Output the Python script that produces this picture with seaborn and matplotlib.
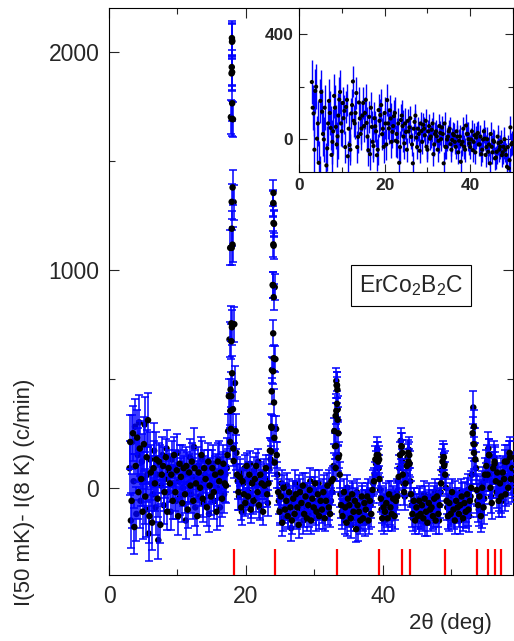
#!/usr/bin/env python3
"""Difference pattern I(50 mK) - I(8 K) for ErCo2B2C, with inset."""

import matplotlib

matplotlib.use("Agg")
import matplotlib.pyplot as plt
import numpy as np
import pandas as pd
import seaborn as sns
from matplotlib.ticker import MultipleLocator

# main scan, first set: 2theta grid 3.0 ... 59.0, step 0.2 deg
two_theta = np.round(np.arange(3.0, 59.01, 0.2), 1)
counts = [
    90, -150, 210, 30, 280, -120, 150, 300, -60, 120,
    40, 290, -100, 60, -210, 130, 20, -30, 170, -90,
    60, -240, 110, 10, 150, -80, 40, 180, -20, 70,
    -110, 130, 20, 90, -60, 160, 30, -40, 110, 0,
    60, -150, 80, 20, 140, -30, 50, 187, -90, 40,
    100, -40, 30, 130, -70, 60, 10, 90, -120, 50,
    20, 110, -60, 70, 0, 130, -90, 40, 80, -30,
    60, 90, 260, 680, 1700, 2050, 1310, 480, 160, 30,
    -40, 70, -110, 20, 90, -60, 40, -20, 110, -80,
    30, 80, -50, 10, 120, -90, 50, -30, 70, -10,
    40, -70, 90, 130, 540, 1300, 920, 270, 60, -60,
    -100, 20, -140, -40, -90, 10, -120, -60, -185, -30,
    -80, 20, -130, -50, 0, -110, -60, -150, 10, -90,
    -40, -120, 30, -70, -100, -10, -140, -60, 20, -90,
    -50, -130, 0, -80, -40, -110, 20, -60, -20, 100,
    190, 490, 360, 150, -30, -110, -60, -150, -80, 0,
    -120, -60, -170, -40, -100, -140, -20, -185, -90, -130,
    -50, -110, -160, -70, -20, -130, -80, -30, 20, 60,
    110, 175, 90, -10, -100, -60, -150, -40, -120, -80,
    -110, -30, -140, -70, -90, -20, 30, 90, 215, 120,
    20, -40, 60, 140, 174, 30, -80, -140, -60, -120,
    -90, -150, -50, -130, -100, -30, -160, -80, -110, -40,
    -140, -70, -120, -20, -100, -60, -150, -20, 80, 155,
    110, 0, -90, -140, -40, -110, -70, -130, -30, -100,
    -60, -150, -20, -90, -120, -50, -80, -10, -130, -40,
    60, 368, 200, 90, -60, -100, -20, -110, 20, -50,
    40, 120, 180, 60, -40, 30, 140, 90, -20, 40,
    -30, 60, -60, 20, 100, -10, 50, 140, 80, 10,
    30,
]

# main scan, second set: 3.1 ... 58.9, step 0.2 deg
two_theta_b = np.round(np.arange(3.1, 58.91, 0.2), 1)
counts_b = [
    210, -60, 250, -180, 100, 230, -20, 180, 40, -110,
    200, -40, 140, 310, -130, 70, -160, 90, 20, 130,
    -50, 120, -170, 60, 100, -20, 140, -110, 90, 20,
    60, -60, 150, -20, 80, -130, 110, 50, -70, 90,
    -30, 100, -100, 70, 10, 120, -60, 90, 20, -130,
    70, 0, 150, -50, 90, 40, -90, 120, 10, -40,
    90, -20, 60, -110, 120, 30, 70, -50, 110, 20,
    10, 150, 420, 1100, 1900, 1690, 750, 260, 60, -20,
    50, -90, 30, -30, -70, 100, -40, 60, -100, 20,
    -60, 40, 100, -20, -80, 60, 20, -110, 10, 90,
    -30, 20, 170, 280, 930, 1210, 590, 150, -20, -110,
    -40, -160, 0, -100, -60, -130, -20, -90, -150, -50,
    -120, -30, -90, -170, -20, -70, 10, -120, -40, -140,
    -80, -10, -150, -50, -90, 20, -110, -30, -130, -60,
    -100, -20, -140, -60, 10, -90, -120, 30, 40, 260,
    330, 470, 250, 60, -80, -130, -20, -90, -160, -50,
    -80, -140, -30, -110, -60, -190, -80, -110, -150, -40,
    -140, -70, -100, -40, -150, -60, -120, -10, 30, 130,
    150, 120, 40, -50, -140, -90, -110, -70, -140, -30,
    -90, -120, -50, -130, -60, -40, 50, 150, 190, 60,
    -20, 20, 100, 160, 110, -30, -120, -60, -150, -90,
    -130, -60, -120, -80, -140, -50, -110, -160, -70, -100,
    -90, -130, -50, -150, -40, -120, -80, 20, 120, 140,
    60, -60, -130, -70, -120, -20, -100, -150, -60, -90,
    -120, -80, -40, -140, -70, -110, -30, -100, -60, 0,
    250, 280, 130, -10, -80, -40, -130, 0, -90, 60,
    100, 60, 150, 0, -70, 90, 110, 30, 70, -60,
    20, -40, 70, 40, -30, 120, 0, 160, 40, 90,
]

# extra points sitting on the Bragg peaks
peak_theta = [
    17.95, 17.97, 17.93, 17.98, 17.99, 17.93, 18.05, 17.92, 17.93, 17.92,
    18.04, 17.88, 17.95, 17.87, 17.98, 17.75, 17.72, 17.80, 17.70, 18.10,
    18.15, 18.20, 17.85,
    24.02, 24.00, 24.03, 24.00, 24.04, 23.98, 24.05, 23.98, 24.05, 23.97,
    23.76, 24.10, 23.75, 24.15, 23.70, 24.20,
    33.25, 33.35, 33.30, 33.20, 33.40, 33.15, 33.50, 33.10,
    39.35, 39.45, 42.75, 42.85, 43.85, 43.75, 48.85, 48.95,
    53.25, 53.30, 55.50, 56.30, 57.80, 58.60,
]
peak_counts = [
    2062, 2045, 1929, 1906, 1763, 1692, 1377, 1311, 1188, 1100,
    1115, 754, 736, 672, 525, 450, 353, 270, 210, 360,
    180, 123, 420,
    1352, 1306, 1214, 1116, 1110, 928, 874, 708, 594, 534,
    442, 391, 275, 229, 166, 116,
    470, 450, 385, 353, 312, 192, 137, 91,
    150, 130, 190, 160, 150, 120, 140, 100,
    200, 160, 150, 120, 120, 140,
]

# error bar half-widths by 2theta region
err_edges = [3.0, 7.0, 17.0, 19.0, 52.0, 59.5]
err_values = [125, 85, 80, 60, 75]

# calculated reflection positions (red ticks)
bragg_positions = [18.2, 24.2, 33.3, 39.4, 42.8, 43.9, 49.0, 53.7, 55.4, 56.3, 57.2]

# inset scan, first set: 3.0 ... 49.8, step 0.4 deg
inset_theta = np.round(np.arange(3.0, 49.81, 0.4), 1)
inset_counts = [
    218, 98, 184, 2, -90, 146, 105, -1, -140, -35,
    146, 43, -10, 165, 47, 11, 151, 60, 138, 108,
    123, -65, -22, 98, 220, 60, 176, 9, 79, 41,
    138, 100, 62, -42, -57, 47, -26, 49, -61, 111,
    92, 19, -29, 60, 149, 41, 79, 28, 88, -6,
    -10, -90, 73, 50, -16, 28, 70, 45, 9, -92,
    66, 6, 40, -44, 31, 55, 15, -29, 30, 2,
    36, -57, 20, 11, -6, 24, 45, -92, -29, -1,
    30, -19, -3, 15, -29, 10, -6, -86, -10, -29,
    52, 20, -16, -1, -42, 15, 6, 24, -20, -57,
    -1, 2, -30, -48, -92, -29, -5, -73, -48, -15,
    -29, -61, -29, -40, -105, -111, 45, -14,
]

# inset scan, second set: 3.2 ... 49.6, step 0.4 deg
inset_theta_b = np.round(np.arange(3.2, 49.61, 0.4), 1)
inset_counts_b = [
    120, -40, 200, 60, -150, 180, 20, 120, -100, 60,
    100, -60, 30, 120, -20, 90, 180, 30, 80, -30,
    150, 40, -40, 130, 70, 100, -30, 140, 20, 90,
    50, 150, 10, 85, 120, -10, 80, 30, -40, 70,
    130, 40, 100, -20, 60, 110, -10, 50, 100, 20,
    60, -30, 90, 10, 60, -40, 30, 80, -20, 40,
    90, -30, 20, 60, -10, 40, 70, -40, 50, 10,
    60, -20, 30, -40, 50, 0, 20, 60, -30, 10,
    40, -40, 20, -10, 30, -50, 10, -20, 40, -40,
    20, 0, -30, 30, -10, -50, 20, -20, 10, -40,
    30, -60, 0, -20, 20, -50, -10, -70, 10, -40,
    -10, -50, 0, -60, -30, -80, -20,
]
inset_err_edges = [3.0, 10.0, 25.0, 50.5]
inset_err_values = [85, 60, 45]


def region_err(theta, edges, values):
    idx = np.searchsorted(edges, theta, side="right") - 1
    return np.asarray(values, dtype=float)[idx]


def main() -> None:
    set_a = pd.DataFrame({"theta": two_theta, "counts": np.asarray(counts, float)})
    set_b = pd.DataFrame(
        {
            "theta": np.concatenate([two_theta_b, peak_theta]),
            "counts": np.concatenate([counts_b, peak_counts]).astype(float),
        }
    )
    main_df = pd.concat([set_a, set_b], ignore_index=True)
    main_df["err"] = region_err(main_df["theta"].to_numpy(), err_edges, err_values)

    inset_df = pd.DataFrame(
        {
            "theta": np.concatenate([inset_theta, inset_theta_b]),
            "counts": np.concatenate([inset_counts, inset_counts_b]).astype(float),
        }
    )
    inset_df["err"] = region_err(
        inset_df["theta"].to_numpy(), inset_err_edges, inset_err_values
    )

    sns.set_theme(style="ticks")
    plt.rcParams["font.family"] = ["Liberation Sans", "DejaVu Sans"]
    plt.rcParams["mathtext.default"] = "regular"
    plt.rcParams["axes.linewidth"] = 0.8
    plt.rcParams["axes.edgecolor"] = "black"

    fig = plt.figure(figsize=(5.14, 6.41), dpi=100)
    ax = fig.add_axes([109 / 514, 66 / 641, 404 / 514, 567 / 641])

    # first set of dots sits below the error bars, second set above
    sns.scatterplot(
        data=set_a, x="theta", y="counts", color="black", s=22,
        edgecolor="none", linewidth=0, legend=False, ax=ax, zorder=2,
    )
    ax.errorbar(
        main_df["theta"], main_df["counts"], yerr=main_df["err"],
        fmt="none", ecolor="#0000ff", elinewidth=1.1, capsize=2.6,
        capthick=1.1, zorder=3,
    )
    sns.scatterplot(
        data=set_b, x="theta", y="counts", color="black", s=22,
        edgecolor="none", linewidth=0, legend=False, ax=ax, zorder=4,
    )
    ax.vlines(bragg_positions, -400, -280, color="red", linewidth=1.6, zorder=5)

    ax.set_xlim(0, 59)
    ax.set_ylim(-400, 2200)
    ax.set_xticks([0, 20, 40])
    ax.set_yticks([0, 1000, 2000])
    ax.xaxis.set_minor_locator(MultipleLocator(10))
    ax.yaxis.set_minor_locator(MultipleLocator(500))
    ax.tick_params(which="both", direction="in", top=True, right=True, width=0.8)
    ax.tick_params(which="major", length=7, labelsize=16.5, pad=7)
    ax.tick_params(which="minor", length=4)
    ax.set_xlabel("")
    ax.set_ylabel("")

    ax.text(
        0.7475, 0.5106, r"ErCo$_2$B$_2$C", transform=ax.transAxes,
        ha="center", va="center", fontsize=16.5,
        bbox=dict(boxstyle="square,pad=0.35", fc="white", ec="black", lw=0.8),
    )

    fig.text(25 / 514, 1 - 492 / 641, "I(50 mK)- I(8 K) (c/min)",
             rotation=90, ha="center", va="center", fontsize=16)
    fig.text(450 / 514, 1 - 623 / 641, "2θ (deg)",
             ha="center", va="center", fontsize=16)

    ins = fig.add_axes([299 / 514, 469 / 641, 214 / 514, 164 / 641])
    ins.set_facecolor("white")
    ins.errorbar(
        inset_df["theta"], inset_df["counts"], yerr=inset_df["err"],
        fmt="none", ecolor="#0000ff", elinewidth=1.0, capsize=0, zorder=2,
    )
    sns.scatterplot(
        data=inset_df, x="theta", y="counts", color="black", s=9,
        edgecolor="none", linewidth=0, legend=False, ax=ins, zorder=3,
    )
    ins.set_xlim(0, 50)
    ins.set_ylim(-125, 500)
    ins.set_xticks([0, 20, 40])
    ins.set_yticks([0, 400])
    ins.xaxis.set_minor_locator(MultipleLocator(10))
    ins.yaxis.set_minor_locator(MultipleLocator(200))
    ins.tick_params(which="both", direction="in", top=True, right=True, width=0.8)
    ins.tick_params(which="major", length=6, labelsize=12.5, pad=4)
    ins.tick_params(which="minor", length=3.5)
    for lab in ins.get_xticklabels() + ins.get_yticklabels():
        lab.set_fontweight("bold")
    ins.set_xlabel("")
    ins.set_ylabel("")

    fig.savefig("out.png", dpi=100, facecolor="white")
    plt.close(fig)


if __name__ == "__main__":
    main()
